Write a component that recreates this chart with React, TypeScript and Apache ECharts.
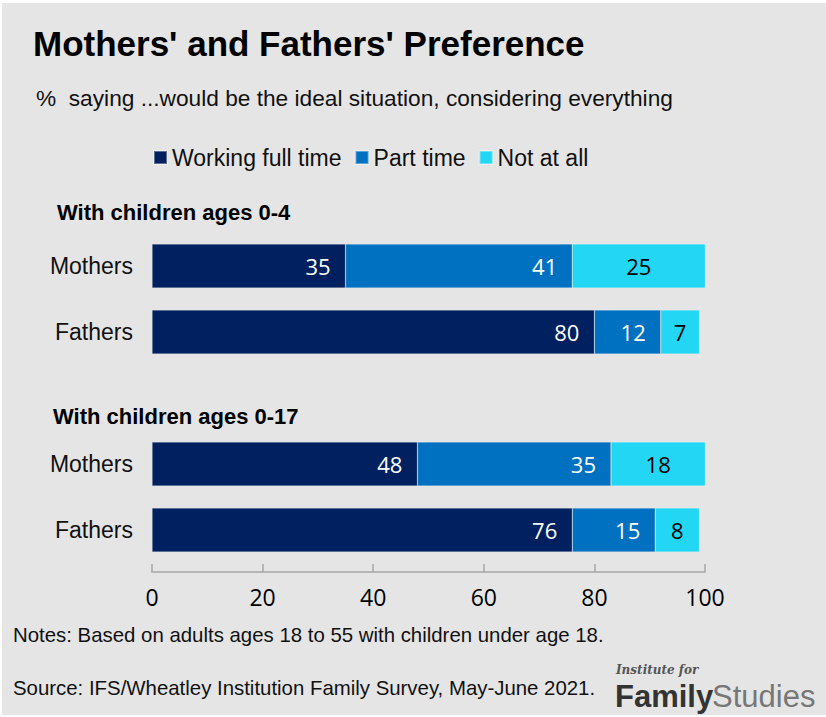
import React, { useEffect, useRef } from "react";
import * as echarts from "echarts";

const title = "Mothers' and Fathers' Preference";
const subtitle = "%  saying ...would be the ideal situation, considering everything";
const groupTitles = ["With children ages 0-4", "With children ages 0-17"];
const categories = ["Mothers", "Fathers"];
const seriesNames = ["Working full time", "Part time", "Not at all"];
const colors = ["#002060", "#0070c0", "#22d6f4"];
const ages04FullTime = [35, 80];
const ages04PartTime = [41, 12];
const ages04NotAtAll = [25, 7];
const ages017FullTime = [48, 76];
const ages017PartTime = [35, 15];
const ages017NotAtAll = [18, 8];
const xTicks = [0, 20, 40, 60, 80, 100];
const notes = "Notes: Based on adults ages 18 to 55 with children under age 18.";
const source = "Source: IFS/Wheatley Institution Family Survey, May-June 2021.";

const FONT = "'Liberation Sans', Arial, sans-serif";
const NUMFONT = "'Open Sans', sans-serif";

export default function App() {
  const ref = useRef<HTMLDivElement>(null);
  useEffect(() => {
    document.body.style.margin = "0";
    const chart = echarts.init(ref.current!, undefined, { renderer: "svg" });
    const groups = [
      [ages04FullTime, ages04PartTime, ages04NotAtAll],
      [ages017FullTime, ages017PartTime, ages017NotAtAll],
    ];
    const series: any[] = [];
    groups.forEach((g, gi) => {
      g.forEach((vals, si) => {
        series.push({
          type: "bar",
          name: seriesNames[si],
          xAxisIndex: gi,
          yAxisIndex: gi,
          stack: "g" + gi,
          barWidth: 44,
          data: vals,
          itemStyle: { color: colors[si], borderColor: "rgba(255,255,255,0.35)", borderWidth: 0.6 },
          label: {
            show: true,
            position: si === 2 ? "inside" : "insideRight",
            distance: 15,
            color: si === 2 ? "#000" : "#fff",
            fontSize: 22,
            fontFamily: NUMFONT,
          },
        });
      });
    });
    const xMin = xTicks[0];
    const xMax = xTicks[xTicks.length - 1];
    const xInterval = xTicks[1] - xTicks[0];
    const option: any = {
      animation: false,
      backgroundColor: "#ffffff",
      color: colors,
      legend: {
        left: 148,
        top: 141,
        icon: "rect",
        itemWidth: 13,
        itemHeight: 13,
        itemGap: 13,
        textStyle: { fontSize: 23, fontFamily: FONT, color: "#111" },
        data: seriesNames,
      },
      grid: [
        { left: 152, right: 121, top: 233, height: 132 },
        { left: 152, right: 121, top: 431, height: 132 },
      ],
      xAxis: [
        { gridIndex: 0, type: "value", min: xMin, max: xMax, interval: xInterval, show: false },
        {
          gridIndex: 1,
          type: "value",
          min: xMin,
          max: xMax,
          interval: xInterval,
          offset: 9,
          splitLine: { show: false },
          axisLine: { show: true, lineStyle: { color: "#a6a6a6", width: 1.5 } },
          axisTick: { show: true, inside: true, length: 8, lineStyle: { color: "#a6a6a6", width: 1.5 } },
          axisLabel: { fontSize: 23, fontFamily: NUMFONT, color: "#000", margin: 13 },
        },
      ],
      yAxis: [0, 1].map((gi) => ({
        gridIndex: gi,
        type: "category",
        inverse: true,
        data: categories,
        axisLine: { show: false },
        axisTick: { show: false },
        axisLabel: { fontSize: 23, fontFamily: FONT, color: "#111", margin: 19 },
      })),
      series,
      graphic: [
        { type: "rect", z: -100, shape: { x: 2, y: 3, width: 824, height: 712 }, style: { fill: "#e5e5e5" } },
        { type: "text", left: 33, top: 26, style: { text: title, font: `bold 35px ${FONT}`, fill: "#000" } },
        { type: "text", left: 36, top: 86, style: { text: subtitle, font: `22.7px ${FONT}`, fill: "#111" } },
        { type: "text", left: 57, top: 201, style: { text: groupTitles[0], font: `bold 22px ${FONT}`, fill: "#000" } },
        { type: "text", left: 53, top: 405, style: { text: groupTitles[1], font: `bold 22px ${FONT}`, fill: "#000" } },
        { type: "text", left: 13, top: 625, style: { text: notes, font: `20.4px ${FONT}`, fill: "#111" } },
        { type: "text", left: 13, top: 678, style: { text: source, font: `20.4px ${FONT}`, fill: "#111" } },
        { type: "text", left: 616, top: 664, style: { text: "Institute for", font: `italic bold 12px 'DejaVu Serif', serif`, fill: "#555" } },
        { type: "text", left: 615, top: 681, style: { text: "Family", font: `bold 31px ${FONT}`, fill: "#333" } },
        { type: "text", left: 712, top: 681, style: { text: "Studies", font: `31px ${FONT}`, fill: "#777" } },
      ],
    };
    chart.setOption(option);
    return () => chart.dispose();
  }, []);
  return (
    <div style={{ position: "absolute", left: 0, top: 0, width: 826, height: 717 }}>
      <div ref={ref} style={{ width: 826, height: 717 }} />
    </div>
  );
}
